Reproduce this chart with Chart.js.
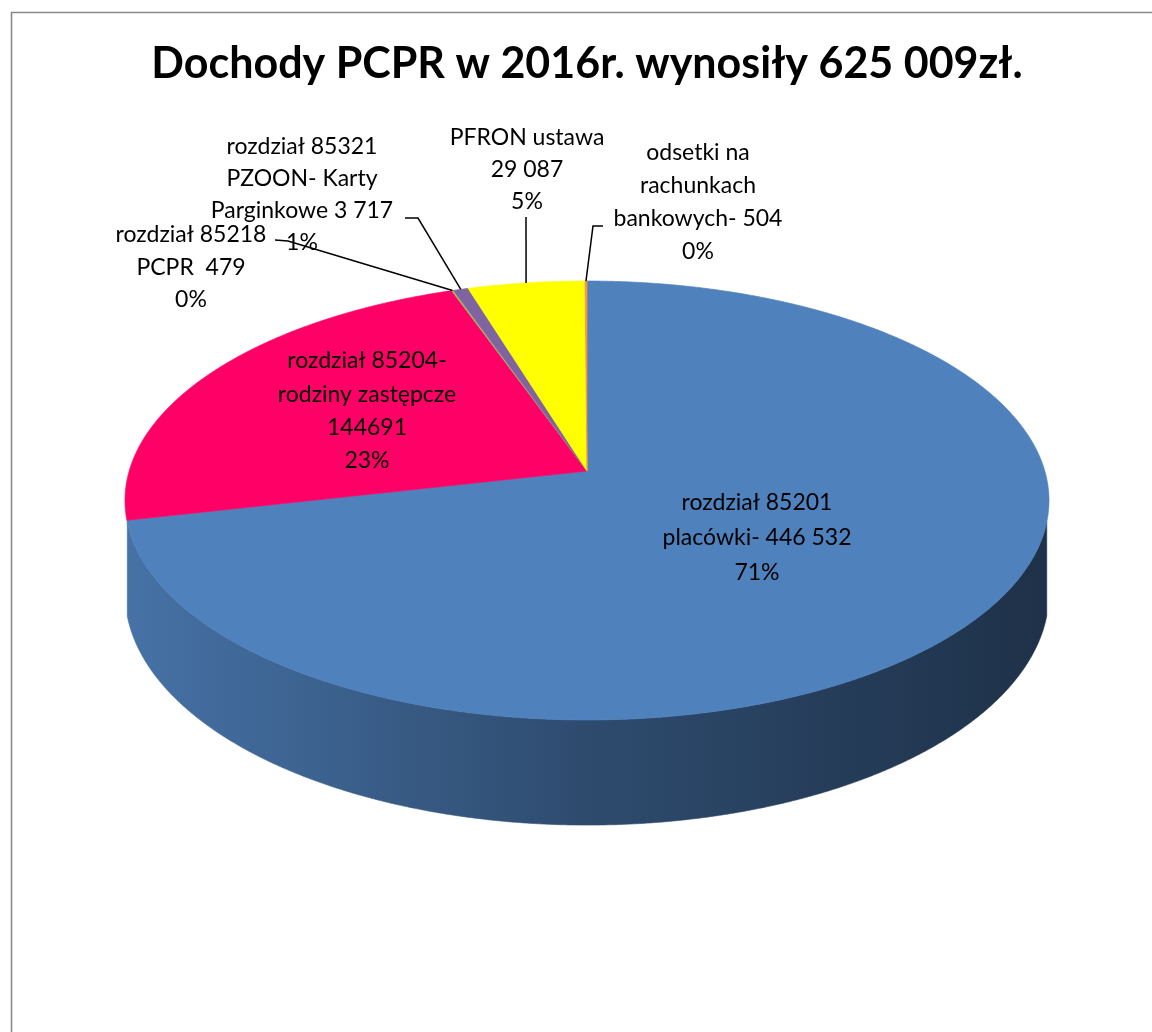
<!DOCTYPE html>
<html>
<head>
<meta charset="utf-8">
<script src="https://cdn.jsdelivr.net/npm/chart.js@4/dist/chart.umd.min.js"></script>
<style>
html,body{margin:0;padding:0;background:#ffffff;}
canvas{display:block;}
</style>
</head>
<body>
<canvas id="c" width="1152" height="1032"></canvas>
<script>
// ---------- DATA ----------
const titleText = 'Dochody PCPR w 2016r. wynosiły 625 009zł.';
const categories = [
  'rozdział 85201 placówki',
  'rozdział 85204- rodziny zastępcze',
  'rozdział 85218 PCPR',
  'rozdział 85321 PZOON- Karty Parginkowe',
  'PFRON ustawa',
  'odsetki na rachunkach bankowych'
];
const values = [446532, 144691, 479, 3717, 29087, 504];
const labelLines = [
  ['rozdział 85201', 'placówki- 446 532'],
  ['rozdział 85204-', 'rodziny zastępcze', '144691'],
  ['rozdział 85218', 'PCPR  479'],
  ['rozdział 85321', 'PZOON- Karty', 'Parginkowe 3 717'],
  ['PFRON ustawa', '29 087'],
  ['odsetki na', 'rachunkach', 'bankowych- 504']
];

// ---------- STYLE / LAYOUT ----------
const colors = ['#4F81BD', '#FF0066', '#9BBB59', '#8064A2', '#FFFF00', '#F79646'];
const GEOM = { cx: 587, cy: 471, r: 457.8, b: 215.5, k: 0.1344, depth: 91, sil: 0.23 };
const labelX = [757, 367, 191, 302, 527, 698];
const labelY = [503, 361, 235, 147, 138, 153];
const labelLH = [35, 33.3, 32.5, 32, 32, 33];
const leaderPts = [null, null, [[275, 240], [288, 241]], [[405, 218], [418, 218]], [[526, 217]], [[603, 226], [593, 226]]];
const LABEL_FONT = '23px Lato';

function shade(hex, f) {
  const n = parseInt(hex.slice(1), 16);
  const r = Math.round(((n >> 16) & 255) * f), g = Math.round(((n >> 8) & 255) * f), b = Math.round((n & 255) * f);
  return 'rgb(' + r + ',' + g + ',' + b + ')';
}

function proj(a, rf, drop) {
  const u = Math.cos(a) * rf, w = -Math.sin(a) * rf;
  const s = 1 / (1 + GEOM.k * w);
  return [GEOM.cx + GEOM.r * u * s, GEOM.cy + (-GEOM.b * w + drop) * s];
}

const pie3d = {
  id: 'pie3d',
  beforeDatasetsDraw(chart) {
    const ctx = chart.ctx;
    const arcs = chart.getDatasetMeta(0).data;
    const fStart = Math.asin(GEOM.sil), fEnd = Math.PI - Math.asin(GEOM.sil);
    ctx.save();
    // side walls (front-facing part only)
    arcs.forEach((arc, i) => {
      const a1 = Math.max(arc.startAngle, fStart), a2 = Math.min(arc.endAngle, fEnd);
      if (a2 <= a1) return;
      const n = Math.max(2, Math.ceil((a2 - a1) / 0.005));
      ctx.beginPath();
      for (let j = 0; j <= n; j++) {
        const p = proj(a1 + (a2 - a1) * j / n, 1, 0);
        if (j === 0) ctx.moveTo(p[0], p[1]); else ctx.lineTo(p[0], p[1]);
      }
      for (let j = n; j >= 0; j--) {
        const p = proj(a1 + (a2 - a1) * j / n, 1, GEOM.depth);
        ctx.lineTo(p[0], p[1]);
      }
      ctx.closePath();
      const col = colors[i];
      const g = ctx.createLinearGradient(GEOM.cx - GEOM.r * 1.01, 0, GEOM.cx + GEOM.r * 1.01, 0);
      g.addColorStop(0, shade(col, 0.88));
      g.addColorStop(0.5, shade(col, 0.58));
      g.addColorStop(1, shade(col, 0.38));
      ctx.fillStyle = g;
      ctx.fill();
      ctx.strokeStyle = g;
      ctx.lineWidth = 0.6;
      ctx.stroke();
    });
    // top faces
    arcs.forEach((arc, i) => {
      const a1 = arc.startAngle, a2 = arc.endAngle;
      const n = Math.max(2, Math.ceil((a2 - a1) / 0.004));
      ctx.beginPath();
      const c = proj(0, 0, 0);
      ctx.moveTo(c[0], c[1]);
      for (let j = 0; j <= n; j++) {
        const p = proj(a1 + (a2 - a1) * j / n, 1, 0);
        ctx.lineTo(p[0], p[1]);
      }
      ctx.closePath();
      ctx.fillStyle = arc.options.backgroundColor;
      ctx.fill();
      ctx.strokeStyle = arc.options.backgroundColor;
      ctx.lineWidth = 0.7;
      ctx.stroke();
    });
    ctx.restore();
    return false;
  },
  afterDraw(chart) {
    const ctx = chart.ctx;
    const arcs = chart.getDatasetMeta(0).data;
    const total = values.reduce((a, b) => a + b, 0);
    ctx.save();
    // frame
    ctx.strokeStyle = '#898989';
    ctx.lineWidth = 1.6;
    ctx.beginPath();
    ctx.moveTo(11.5, 1032);
    ctx.lineTo(11.5, 12.5);
    ctx.lineTo(1152, 12.5);
    ctx.stroke();
    // leader lines
    ctx.strokeStyle = '#000';
    ctx.lineWidth = 1.5;
    arcs.forEach((arc, i) => {
      const pts = leaderPts[i];
      if (!pts) return;
      const mid = (arc.startAngle + arc.endAngle) / 2;
      const e = proj(mid, 1, 0);
      ctx.beginPath();
      ctx.moveTo(pts[0][0], pts[0][1]);
      for (let j = 1; j < pts.length; j++) ctx.lineTo(pts[j][0], pts[j][1]);
      ctx.lineTo(e[0], e[1]);
      ctx.stroke();
    });
    // labels
    ctx.fillStyle = '#000';
    ctx.font = LABEL_FONT;
    ctx.textAlign = 'center';
    ctx.textBaseline = 'middle';
    values.forEach((v, i) => {
      const lines = labelLines[i].concat([Math.round(v / total * 100) + '%']);
      lines.forEach((t, j) => ctx.fillText(t, labelX[i], labelY[i] + j * labelLH[i]));
    });
    ctx.restore();
  }
};

new Chart(document.getElementById('c'), {
  type: 'pie',
  data: {
    labels: categories,
    datasets: [{ data: values, backgroundColor: colors, borderWidth: 0 }]
  },
  options: {
    responsive: false,
    animation: false,
    layout: { padding: { left: 22, right: 0, top: 0, bottom: 0 } },
    plugins: {
      legend: { display: false },
      tooltip: { enabled: false },
      title: {
        display: true,
        text: titleText,
        color: '#000',
        font: { family: 'Lato', size: 43, weight: 'bold', lineHeight: 1.2 },
        padding: { top: 38, bottom: 10 }
      }
    }
  },
  plugins: [pie3d]
});
</script>
</body>
</html>
